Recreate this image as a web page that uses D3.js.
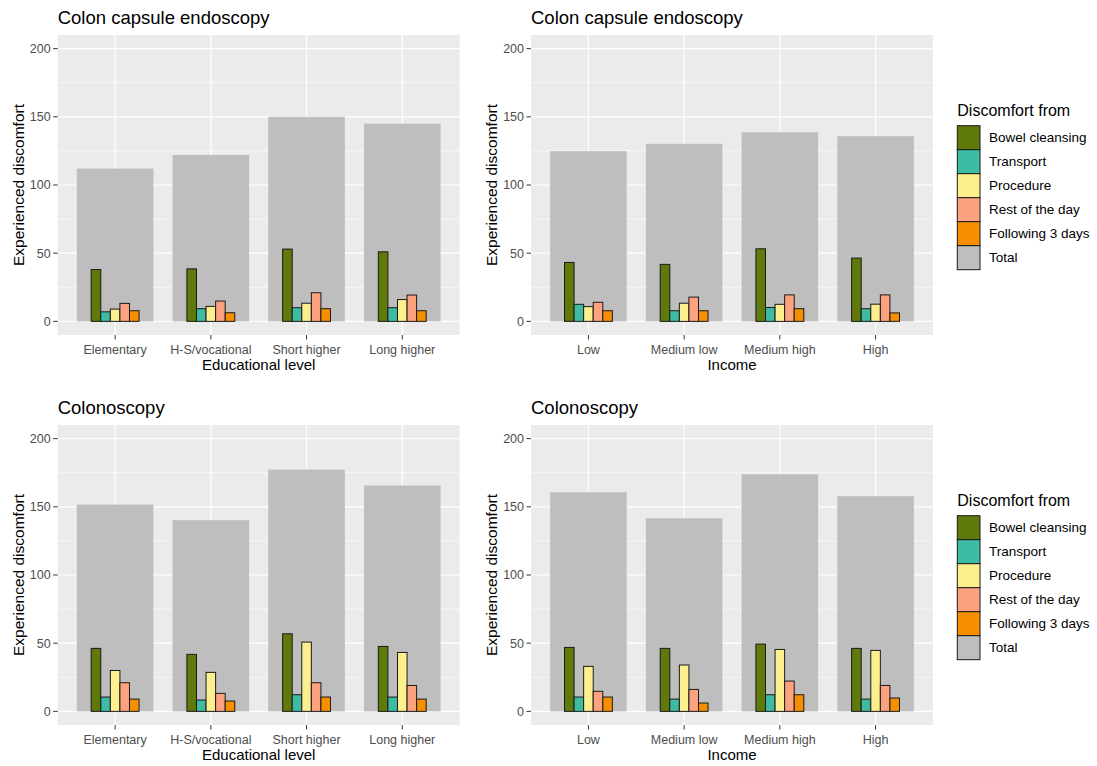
<!DOCTYPE html>
<html>
<head>
<meta charset="utf-8">
<script src="https://cdn.jsdelivr.net/npm/d3@7"></script>
<style>
  html, body { margin: 0; padding: 0; background: #ffffff; }
  svg { display: block; font-family: "Liberation Sans", Arial, sans-serif; }
</style>
</head>
<body>
<svg id="chart" width="1097" height="766"></svg>
<script>
// ---------- Data ----------
const eduLevels = ["Elementary", "H-S/vocational", "Short higher", "Long higher"];
const incomeLevels = ["Low", "Medium low", "Medium high", "High"];
const sources = ["Bowel cleansing", "Transport", "Procedure", "Rest of the day", "Following 3 days"];
const legendItems = ["Bowel cleansing", "Transport", "Procedure", "Rest of the day", "Following 3 days", "Total"];
const yTicks = [0, 50, 100, 150, 200];
const yMinorTicks = [25, 75, 125, 175];
const panelTitles = ["Colon capsule endoscopy", "Colon capsule endoscopy", "Colonoscopy", "Colonoscopy"];
const xTitles = ["Educational level", "Income", "Educational level", "Income"];
const yTitle = "Experienced discomfort";
const legendTitle = "Discomfort from";

// Colon capsule endoscopy, by educational level
const cceEduTotal     = [112, 122, 150, 145];
const cceEduBowel     = [38, 38.5, 53, 51];
const cceEduTransport = [7, 9.3, 10, 10];
const cceEduProcedure = [9, 11, 13.3, 16];
const cceEduRest      = [13.2, 14.9, 21, 19.3];
const cceEduFollowing = [7.8, 6.3, 9.3, 7.8];

// Colon capsule endoscopy, by income
const cceIncTotal     = [124.8, 130.2, 138.7, 135.8];
const cceIncBowel     = [43.2, 41.8, 53.2, 46.4];
const cceIncTransport = [12.5, 7.8, 10.2, 9.3];
const cceIncProcedure = [10.8, 13.3, 12.5, 12.6];
const cceIncRest      = [14, 17.8, 19.4, 19.4];
const cceIncFollowing = [7.8, 7.8, 9.3, 6.2];

// Colonoscopy, by educational level
const colEduTotal     = [151.6, 140.2, 177.3, 165.6];
const colEduBowel     = [46.2, 41.8, 56.9, 47.6];
const colEduTransport = [10.5, 8.3, 12.2, 10.5];
const colEduProcedure = [30, 28.6, 50.8, 43.2];
const colEduRest      = [21, 13.2, 21, 19];
const colEduFollowing = [9, 7.6, 10.5, 9];

// Colonoscopy, by income
const colIncTotal     = [160.7, 141.6, 173.9, 157.8];
const colIncBowel     = [46.9, 46.2, 49.3, 46.2];
const colIncTransport = [10.5, 9, 12.2, 9];
const colIncProcedure = [33, 34, 45.4, 44.7];
const colIncRest      = [14.7, 16.1, 22.2, 19];
const colIncFollowing = [10.5, 6.1, 12.2, 9.8];

// ---------- Styles ----------
const fillColors = ["#5f790b", "#3dbba3", "#fdef8e", "#fca27e", "#f68f00", "#bebebe"];

const panels = [
  { cats: eduLevels, total: cceEduTotal, parts: [cceEduBowel, cceEduTransport, cceEduProcedure, cceEduRest, cceEduFollowing], col: 0, row: 0 },
  { cats: incomeLevels, total: cceIncTotal, parts: [cceIncBowel, cceIncTransport, cceIncProcedure, cceIncRest, cceIncFollowing], col: 1, row: 0 },
  { cats: eduLevels, total: colEduTotal, parts: [colEduBowel, colEduTransport, colEduProcedure, colEduRest, colEduFollowing], col: 0, row: 1 },
  { cats: incomeLevels, total: colIncTotal, parts: [colIncBowel, colIncTransport, colIncProcedure, colIncRest, colIncFollowing], col: 1, row: 1 }
];

const colX = [57.7, 531];
const rowY = [35, 425];
const panelW = 402, panelH = 300;

const svg = d3.select("#chart");

panels.forEach((p, i) => {
  const x0 = colX[p.col], y0 = rowY[p.row];
  const g = svg.append("g");

  const x = d3.scalePoint().domain(p.cats).range([x0, x0 + panelW]).padding(0.6);
  const step = x.step();
  const y = d3.scaleLinear().domain([-10, 210]).range([y0 + panelH, y0]);

  // panel background
  g.append("rect").attr("x", x0).attr("y", y0).attr("width", panelW).attr("height", panelH).attr("fill", "#ebebeb");

  // minor grid
  g.selectAll(".minor").data(yMinorTicks).join("line")
    .attr("x1", x0).attr("x2", x0 + panelW)
    .attr("y1", d => y(d)).attr("y2", d => y(d))
    .attr("stroke", "#ffffff").attr("stroke-width", 0.6);
  // major grid
  g.selectAll(".majory").data(yTicks).join("line")
    .attr("x1", x0).attr("x2", x0 + panelW)
    .attr("y1", d => y(d)).attr("y2", d => y(d))
    .attr("stroke", "#ffffff").attr("stroke-width", 1.2);
  g.selectAll(".majorx").data(p.cats).join("line")
    .attr("x1", d => x(d)).attr("x2", d => x(d))
    .attr("y1", y0).attr("y2", y0 + panelH)
    .attr("stroke", "#ffffff").attr("stroke-width", 1.2);

  // total bars
  g.selectAll(".total").data(p.cats).join("rect")
    .attr("x", d => x(d) - 0.4 * step)
    .attr("width", 0.8 * step)
    .attr("y", (d, j) => y(p.total[j]))
    .attr("height", (d, j) => y(0) - y(p.total[j]))
    .attr("fill", fillColors[5]);

  // component bars
  p.parts.forEach((series, k) => {
    g.selectAll(null).data(p.cats).join("rect")
      .attr("x", d => x(d) + (k - 2.5) * 0.1 * step)
      .attr("width", 0.1 * step)
      .attr("y", (d, j) => y(series[j]))
      .attr("height", (d, j) => y(0) - y(series[j]))
      .attr("fill", fillColors[k])
      .attr("stroke", "#1a1a1a").attr("stroke-width", 1);
  });

  // y axis ticks and labels
  g.selectAll(".yt").data(yTicks).join("line")
    .attr("x1", x0 - 4.5).attr("x2", x0)
    .attr("y1", d => y(d)).attr("y2", d => y(d))
    .attr("stroke", "#333333").attr("stroke-width", 1);
  g.selectAll(".yl").data(yTicks).join("text")
    .attr("x", x0 - 7).attr("y", d => y(d)).attr("dy", "0.35em")
    .attr("text-anchor", "end").attr("font-size", 12.5).attr("fill", "#4d4d4d")
    .text(d => d);

  // x axis ticks and labels
  g.selectAll(".xt").data(p.cats).join("line")
    .attr("x1", d => x(d)).attr("x2", d => x(d))
    .attr("y1", y0 + panelH).attr("y2", y0 + panelH + 4.5)
    .attr("stroke", "#333333").attr("stroke-width", 1);
  g.selectAll(".xl").data(p.cats).join("text")
    .attr("x", d => x(d)).attr("y", y0 + 319)
    .attr("text-anchor", "middle").attr("font-size", 12.5).attr("fill", "#4d4d4d")
    .text(d => d);

  // axis titles
  g.append("text")
    .attr("x", x0 + panelW / 2).attr("y", y0 + 335)
    .attr("text-anchor", "middle").attr("font-size", 15).attr("fill", "#000")
    .text(xTitles[i]);
  g.append("text")
    .attr("transform", `translate(${x0 - 39.5},${y0 + panelH / 2}) rotate(-90)`)
    .attr("dy", "0.35em")
    .attr("text-anchor", "middle").attr("font-size", 15.5).attr("fill", "#000")
    .text(yTitle);

  // panel title
  g.append("text")
    .attr("x", x0).attr("y", y0 - 11.5)
    .attr("font-size", 18.5).attr("fill", "#000")
    .text(panelTitles[i]);

  // legend for right column
  if (p.col === 1) {
    const lx = 957.3, ly = y0 + 90.7, kh = 24, kw = 22.7;
    const lg = svg.append("g");
    lg.append("text").attr("x", lx).attr("y", y0 + 80.5)
      .attr("font-size", 16).attr("fill", "#000").text(legendTitle);
    lg.selectAll("rect").data(legendItems).join("rect")
      .attr("x", lx).attr("y", (d, j) => ly + j * kh)
      .attr("width", kw).attr("height", kh)
      .attr("fill", (d, j) => fillColors[j])
      .attr("stroke", "#1a1a1a").attr("stroke-width", 1);
    lg.selectAll("text.lab").data(legendItems).join("text")
      .attr("class", "lab")
      .attr("x", lx + 31.7).attr("y", (d, j) => ly + j * kh + kh / 2)
      .attr("dy", "0.35em")
      .attr("font-size", 13.5).attr("fill", "#000")
      .text(d => d);
  }
});
</script>
</body>
</html>
